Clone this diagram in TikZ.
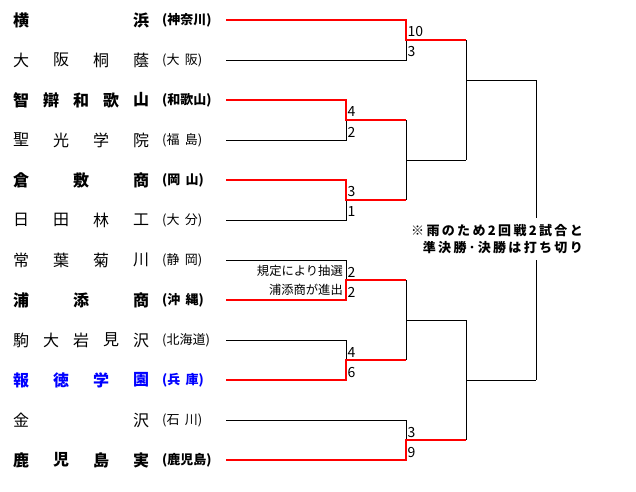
\documentclass[tikz,border=0pt]{standalone}
\usepackage{fontspec}
\setmainfont{Noto Sans CJK JP}
\usetikzlibrary{calc}
\newcommand\teamrow[5]{% #1 id, #2 y, #3 chars, #4 count, #5 style
  \foreach \c [count=\i] in {#3}{
    \node[#5] (#1-\i) at ({21+(\i-1)*120/(#4-1)},#2) {\c};
  }
  \coordinate (#1-s) at (226,#2);
}
\newcommand\gap{\hspace{0.4em}}
\begin{document}
\begin{tikzpicture}[x=1pt,y=-1pt,
  win/.style={draw=red,line width=2pt},
  lose/.style={draw=black,line width=1pt},
  nm/.style={inner sep=0pt,font=\fontsize{16}{16}\selectfont},
  nmb/.style={inner sep=0pt,font=\fontsize{16}{16}\selectfont\bfseries},
  pf/.style={anchor=west,inner sep=0pt,font=\fontsize{13}{13}\selectfont},
  pfb/.style={anchor=west,inner sep=0pt,font=\fontsize{13}{13}\selectfont\bfseries},
  sc/.style={anchor=west,inner sep=0pt,font=\fontsize{14}{14}\selectfont},
  memo/.style={anchor=east,inner sep=0pt,font=\fontsize{12.3}{12.3}\selectfont},
  note/.style={fill=white,inner xsep=1pt,inner ysep=6pt,align=right,
    font=\fontsize{13}{17}\selectfont\bfseries\addfontfeatures{LetterSpace=18}},
]
\useasboundingbox (0,0) rectangle (636,491);

% team names
\teamrow{r1}{20}{横,浜}{2}{nmb}
\teamrow{r2}{60}{大,阪,桐,蔭}{4}{nm}
\teamrow{r3}{100}{智,辯,和,歌,山}{5}{nmb}
\teamrow{r4}{140}{聖,光,学,院}{4}{nm}
\teamrow{r5}{180}{倉,敷,商}{3}{nmb}
\teamrow{r6}{220}{日,田,林,工}{4}{nm}
\teamrow{r7}{260}{常,葉,菊,川}{4}{nm}
\teamrow{r8}{300}{浦,添,商}{3}{nmb}
\teamrow{r9}{340}{駒,大,岩,見,沢}{5}{nm}
\teamrow{r10}{380}{報,徳,学,園}{4}{nmb,text=blue}
\teamrow{r11}{420}{金,沢}{2}{nm}
\teamrow{r12}{460}{鹿,児,島,実}{4}{nmb}

% prefectures
\node[pfb] (p1) at (162,20) {(神奈川)};
\node[pf] (p2) at (162,60) {(大\gap 阪)};
\node[pfb] (p3) at (162,100) {(和歌山)};
\node[pf] (p4) at (162,140) {(福\gap 島)};
\node[pfb] (p5) at (162,180) {(岡\gap 山)};
\node[pf] (p6) at (162,220) {(大\gap 分)};
\node[pf] (p7) at (162,260) {(静\gap 岡)};
\node[pfb] (p8) at (162,300) {(沖\gap 縄)};
\node[pf] (p9) at (162,340) {(北海道)};
\node[pfb,text=blue] (p10) at (162,380) {(兵\gap 庫)};
\node[pf] (p11) at (162,420) {(石\gap 川)};
\node[pfb] (p12) at (162,460) {(鹿児島)};

% junctions
\coordinate (j12) at (406,40);
\coordinate (j34) at (346,120);
\coordinate (j56) at (346,200);
\coordinate (j78) at (346,280);
\coordinate (j910) at (346,360);
\coordinate (j1112) at (406,440);
\coordinate (k3456) at (406,160);
\coordinate (k78910) at (406,320);
\coordinate (stop) at (466,80);
\coordinate (sbot) at (466,380);
\coordinate (fin) at (536,230);

% losing / neutral lines
\draw[lose] (r2-s) -| (j12);
\draw[lose] (r4-s) -| (j34);
\draw[lose] (r6-s) -| (j56);
\draw[lose] (r7-s) -| (j78);
\draw[lose] (r9-s) -| (j910);
\draw[lose] (r11-s) -| (j1112);
\draw[lose] (j34 -| k3456) -- (j56 -| k3456);
\draw[lose] (k3456) -- (k3456 -| stop);
\draw[lose] (j12 -| stop) -- (k3456 -| stop);
\draw[lose] (stop) -- (stop -| fin);
\draw[lose] (j78 -| k78910) -- (j910 -| k78910);
\draw[lose] (k78910) -- (k78910 -| sbot);
\draw[lose] (k78910 -| sbot) -- (j1112 -| sbot);
\draw[lose] (sbot) -- (sbot -| fin);
\draw[lose] (stop -| fin) -- (sbot -| fin);

% winning lines
\draw[win] (r1-s) -| (j12) -- (j12 -| stop);
\draw[win] (r3-s) -| (j34) -- (j34 -| k3456);
\draw[win] (r5-s) -| (j56) -- (j56 -| k3456);
\draw[win] (r8-s) -| (j78) -- (j78 -| k78910);
\draw[win] (r10-s) -| (j910) -- (j910 -| k78910);
\draw[win] (r12-s) -| (j1112) -- (j1112 -| sbot);

% scores
\node[sc] (s1a) at ([shift={(1.5,-8)}]j12) {10};
\node[sc] (s1b) at ([shift={(1.5,12)}]j12) {3};
\node[sc] (s2a) at ([shift={(1.5,-8)}]j34) {4};
\node[sc] (s2b) at ([shift={(1.5,12)}]j34) {2};
\node[sc] (s3a) at ([shift={(1.5,-8)}]j56) {3};
\node[sc] (s3b) at ([shift={(1.5,12)}]j56) {1};
\node[sc] (s4a) at ([shift={(1.5,-8)}]j78) {2};
\node[sc] (s4b) at ([shift={(1.5,12)}]j78) {2};
\node[sc] (s5a) at ([shift={(1.5,-8)}]j910) {4};
\node[sc] (s5b) at ([shift={(1.5,12)}]j910) {6};
\node[sc] (s6a) at ([shift={(1.5,-8)}]j1112) {3};
\node[sc] (s6b) at ([shift={(1.5,12)}]j1112) {9};

% lottery memo
\node[memo] (m1) at ([shift={(-3,-9)}]j78) {規定により抽選};
\node[memo] (m2) at ([shift={(-3,10)}]j78) {浦添商が進出};

% note
\node[note,anchor=east] (note) at (584,239) {※雨のため2回戦2試合と\\準決勝･決勝は打ち切り};
\end{tikzpicture}
\end{document}
